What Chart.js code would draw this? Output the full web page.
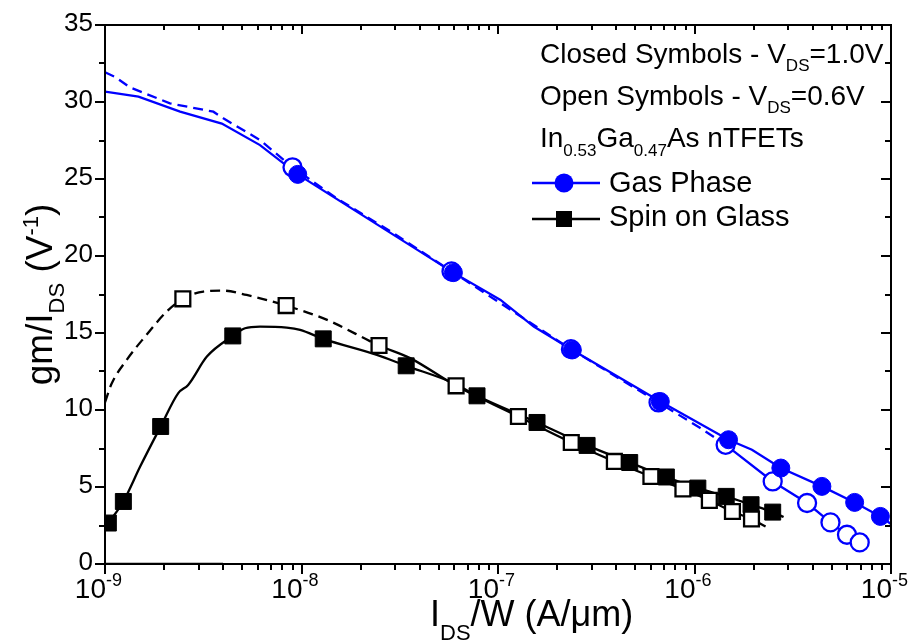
<!DOCTYPE html>
<html>
<head>
<meta charset="utf-8">
<script src="https://cdn.jsdelivr.net/npm/chart.js@4.4.1/dist/chart.umd.min.js"></script>
<style>
  body { margin: 0; background: #fff; }
  #wrap { width: 911px; height: 641px; position: relative; }
</style>
</head>
<body>
<div id="wrap"><canvas id="chart"></canvas></div>
<script>
// ---- data (x in A/um, y in 1/V) ----
// Gas Phase, VDS = 1.0 V (solid line, closed circles)
const gasHiCurveX = [1e-9, 1.48e-9, 2.41e-9, 3.93e-9, 6.15e-9, 9.57e-9, 5.93e-8, 1.03e-7, 1.52e-7, 2.39e-7, 6.70e-7, 1.49e-6, 1.96e-6, 2.75e-6, 4.45e-6, 6.53e-6, 8.83e-6, 1e-5];
const gasHiCurveY = [30.67, 30.35, 29.37, 28.6, 27.2, 25.3, 18.92, 17.15, 15.42, 13.9, 10.55, 8.07, 7.42, 6.23, 5.04, 4.0, 3.09, 2.6];
const gasHiMarkX = [9.57e-9, 5.93e-8, 2.39e-7, 6.70e-7, 1.49e-6, 2.75e-6, 4.45e-6, 6.53e-6, 8.83e-6];
const gasHiMarkY = [25.3, 18.92, 13.9, 10.55, 8.07, 6.23, 5.04, 4.0, 3.09];

// Gas Phase, VDS = 0.6 V (dashed line, open circles)
const gasLoCurveX = [1e-9, 1.12e-9, 1.34e-9, 2.14e-9, 3.56e-9, 4.0e-9, 6.15e-9, 9.0e-9, 1.51e-8, 2.94e-8, 5.8e-8, 2.35e-7, 6.56e-7, 1.07e-6, 1.44e-6, 2.50e-6, 3.74e-6, 4.92e-6, 5.97e-6, 6.93e-6];
const gasLoCurveY = [31.93, 31.64, 30.95, 29.91, 29.37, 28.94, 27.53, 25.76, 23.75, 21.48, 19.0, 13.95, 10.49, 8.83, 7.74, 5.36, 3.96, 2.70, 1.90, 1.40];
const gasLoMarkX = [9.0e-9, 5.8e-8, 2.35e-7, 6.56e-7, 1.44e-6, 2.50e-6, 3.74e-6, 4.92e-6, 5.97e-6, 6.93e-6];
const gasLoMarkY = [25.76, 19.0, 13.95, 10.49, 7.74, 5.36, 3.96, 2.70, 1.90, 1.40];

// Spin on Glass, VDS = 1.0 V (solid line, closed squares)
const sogHiCurveX = [1.04e-9, 1.24e-9, 1.51e-9, 1.92e-9, 2.36e-9, 2.65e-9, 3.30e-9, 4.47e-9, 5.16e-9, 6.15e-9, 8.41e-9, 9.84e-9, 1.29e-8, 2.42e-8, 3.41e-8, 5.93e-8, 7.82e-8, 1.58e-7, 2.84e-7, 4.68e-7, 7.19e-7, 1.04e-6, 1.45e-6, 1.94e-6, 2.50e-6, 2.84e-6];
const sogHiCurveY = [2.66, 4.06, 6.33, 8.93, 11.1, 11.63, 13.47, 14.81, 15.31, 15.42, 15.35, 15.2, 14.62, 13.58, 12.87, 11.75, 10.92, 9.19, 7.70, 6.59, 5.65, 4.93, 4.39, 3.85, 3.37, 3.05];
const sogHiMarkX = [1.04e-9, 1.24e-9, 1.92e-9, 4.47e-9, 1.29e-8, 3.41e-8, 7.82e-8, 1.58e-7, 2.84e-7, 4.68e-7, 7.19e-7, 1.04e-6, 1.45e-6, 1.94e-6, 2.50e-6];
const sogHiMarkY = [2.66, 4.06, 8.93, 14.81, 14.62, 12.87, 10.92, 9.19, 7.70, 6.59, 5.65, 4.93, 4.39, 3.85, 3.37];
const sogZeroX = [1e-9, 3.99e-9];
const sogZeroY = [0, 0];

// Spin on Glass, VDS = 0.6 V (dashed line, open squares)
const sogLoCurveX = [1.0e-9, 1.08e-9, 1.29e-9, 1.60e-9, 2.06e-9, 2.49e-9, 3.17e-9, 4.0e-9, 5.26e-9, 8.35e-9, 1.35e-8, 2.48e-8, 3.57e-8, 6.12e-8, 1.27e-7, 2.36e-7, 3.91e-7, 6.00e-7, 8.73e-7, 1.19e-6, 1.56e-6, 1.95e-6, 2.30e-6];
const sogLoCurveY = [10.5, 11.7, 13.26, 14.77, 16.39, 17.22, 17.69, 17.75, 17.47, 16.78, 15.85, 14.19, 13.37, 11.57, 9.58, 7.89, 6.66, 5.68, 4.87, 4.13, 3.41, 2.92, 2.44];
const sogLoMarkX = [2.49e-9, 8.35e-9, 2.48e-8, 6.12e-8, 1.27e-7, 2.36e-7, 3.91e-7, 6.00e-7, 8.73e-7, 1.19e-6, 1.56e-6, 1.95e-6];
const sogLoMarkY = [17.22, 16.78, 14.19, 11.57, 9.58, 7.89, 6.66, 5.68, 4.87, 4.13, 3.41, 2.92];

// axis ticks
const xTickExps = [-9, -8, -7, -6, -5];
const yTickLabels = ['0', '5', '10', '15', '20', '25', '30', '35'];

const BLUE = '#0000ff';
const BLACK = '#000000';
const FONT = '"Liberation Sans", Arial, sans-serif';

const pts = (xs, ys) => xs.map((x, i) => ({ x: x, y: ys[i] }));

function curve(xs, ys, color, dashUntil, smooth) {
    return {
        data: pts(xs, ys),
        showLine: true,
        borderColor: color,
        borderWidth: 2.3,
        pointRadius: 0,
        cubicInterpolationMode: smooth ? 'monotone' : 'default',
        tension: 0,
        borderDash: [],
        segment: dashUntil ? {
            borderDash: ctx => ctx.p0.parsed.x < dashUntil ? [10, 6] : undefined
        } : undefined
    };
}

function marks(xs, ys, color, style, open) {
    const sq = style === 'rect';
    return {
        data: pts(xs, ys),
        showLine: false,
        pointStyle: style,
        pointRadius: sq ? (open ? 10.5 : 11.3) : 9,
        borderWidth: open ? 2.3 : 1,
        borderColor: color,
        backgroundColor: open ? '#ffffff' : color
    };
}

// rich text with sub/superscripts: parts = [[text, '' | 'sub' | 'sup'], ...]
function richWidth(ctx, parts, size, small) {
    let w = 0;
    parts.forEach(([t, k]) => {
        ctx.font = (k ? small : size) + 'px ' + FONT;
        w += ctx.measureText(t).width;
    });
    return w;
}

function richText(ctx, x, y, parts, size, small, subDy, supDy) {
    let cx = x;
    ctx.textAlign = 'left';
    ctx.textBaseline = 'alphabetic';
    parts.forEach(([t, k]) => {
        ctx.font = (k ? small : size) + 'px ' + FONT;
        const dy = k === 'sub' ? subDy : (k === 'sup' ? -supDy : 0);
        ctx.fillText(t, cx, y + dy);
        cx += ctx.measureText(t).width;
    });
    return cx - x;
}

const decorPlugin = {
    id: 'decor',
    afterDatasetsDraw(chart) {
        const ctx = chart.ctx;
        const a = chart.chartArea;
        const xs = chart.scales.x, ys = chart.scales.y;
        ctx.save();
        ctx.strokeStyle = BLACK;
        ctx.fillStyle = BLACK;
        ctx.lineWidth = 2;

        // frame
        ctx.strokeRect(a.left, a.top, a.right - a.left, a.bottom - a.top);

        // x ticks (log, with minors)
        ctx.beginPath();
        for (let e = -9; e <= -5; e++) {
            for (let m = 1; m <= 9; m++) {
                if (e === -5 && m > 1) break;
                const px = Math.round(xs.getPixelForValue(m * Math.pow(10, e)));
                const len = m === 1 ? 10 : 6;
                ctx.moveTo(px, a.bottom); ctx.lineTo(px, a.bottom + len);
                ctx.moveTo(px, a.top); ctx.lineTo(px, a.top + len - 1);
            }
        }
        // y ticks
        for (let v = 0; v <= 35; v += 2.5) {
            const py = Math.round(ys.getPixelForValue(v));
            const len = v % 5 === 0 ? 10 : 6;
            ctx.moveTo(a.left, py); ctx.lineTo(a.left - len, py);
            ctx.moveTo(a.right, py); ctx.lineTo(a.right - len, py);
        }
        ctx.stroke();

        // x tick labels 10^n
        xTickExps.forEach(e => {
            const px = xs.getPixelForValue(Math.pow(10, e));
            ctx.font = '28px ' + FONT;
            const w10 = ctx.measureText('10').width;
            ctx.textAlign = 'left';
            ctx.textBaseline = 'alphabetic';
            ctx.fillText('10', px - w10 + 1, 598);
            ctx.font = '18px ' + FONT;
            ctx.fillText(String(e), px + 1, 586);
        });

        // y tick labels
        ctx.font = '26px ' + FONT;
        ctx.textAlign = 'right';
        ctx.textBaseline = 'middle';
        yTickLabels.forEach(t => {
            const py = ys.getPixelForValue(Number(t));
            ctx.fillText(t, 93, py - 1);
        });

        // x title
        richText(ctx, 430, 626, [['I', ''], ['DS', 'sub'], ['/W (A/\u03bcm)', '']], 36, 22, 14, 0);

        // y title (rotated)
        const yParts = [['gm/I', ''], ['DS', 'sub'], [' (V', ''], ['-1', 'sup'], [')', '']];
        const yw = richWidth(ctx, yParts, 37, 22);
        ctx.save();
        ctx.translate(52, (a.top + a.bottom) / 2);
        ctx.rotate(-Math.PI / 2);
        richText(ctx, -yw / 2, 0, yParts, 37, 22, 12, 14);
        ctx.restore();

        // annotation text
        richText(ctx, 540, 63, [['Closed Symbols - V', ''], ['DS', 'sub'], ['=1.0V', '']], 28, 17, 8, 0);
        richText(ctx, 540, 105, [['Open Symbols - V', ''], ['DS', 'sub'], ['=0.6V', '']], 28, 17, 8, 0);
        richText(ctx, 540, 147, [['In', ''], ['0.53', 'sub'], ['Ga', ''], ['0.47', 'sub'], ['As nTFETs', '']], 28, 17, 9, 0);

        // legend
        ctx.lineWidth = 2.3;
        ctx.strokeStyle = BLUE;
        ctx.beginPath(); ctx.moveTo(532, 183); ctx.lineTo(600, 183); ctx.stroke();
        ctx.fillStyle = BLUE;
        ctx.beginPath(); ctx.arc(564, 183, 9.5, 0, Math.PI * 2); ctx.fill();
        ctx.strokeStyle = BLACK;
        ctx.beginPath(); ctx.moveTo(532, 219); ctx.lineTo(600, 219); ctx.stroke();
        ctx.fillStyle = BLACK;
        ctx.fillRect(556, 211, 16, 16);
        richText(ctx, 609, 192, [['Gas Phase', '']], 29, 17, 0, 0);
        richText(ctx, 609, 226, [['Spin on Glass', '']], 29, 17, 0, 0);

        ctx.restore();
    }
};

new Chart(document.getElementById('chart'), {
    type: 'scatter',
    data: {
        datasets: [
            marks(gasHiMarkX, gasHiMarkY, BLUE, 'circle', false),
            marks(gasLoMarkX, gasLoMarkY, BLUE, 'circle', true),
            marks(sogLoMarkX, sogLoMarkY, BLACK, 'rect', true),
            marks(sogHiMarkX, sogHiMarkY, BLACK, 'rect', false),
            curve(gasHiCurveX, gasHiCurveY, BLUE),
            curve(gasLoCurveX, gasLoCurveY, BLUE, 1.4e-6),
            curve(sogHiCurveX, sogHiCurveY, BLACK, null, true),
            curve(sogLoCurveX, sogLoCurveY, BLACK, 2.4e-8, true),
            curve(sogZeroX, sogZeroY, BLACK)
        ]
    },
    options: {
        responsive: true,
        maintainAspectRatio: false,
        animation: false,
        events: [],
        layout: { padding: { left: 105, top: 25, right: 20, bottom: 77 } },
        plugins: { legend: { display: false }, tooltip: { enabled: false } },
        scales: {
            x: { type: 'logarithmic', min: 1e-9, max: 1e-5, display: false },
            y: { type: 'linear', min: 0, max: 35, display: false }
        }
    },
    plugins: [decorPlugin]
});
</script>
</body>
</html>
